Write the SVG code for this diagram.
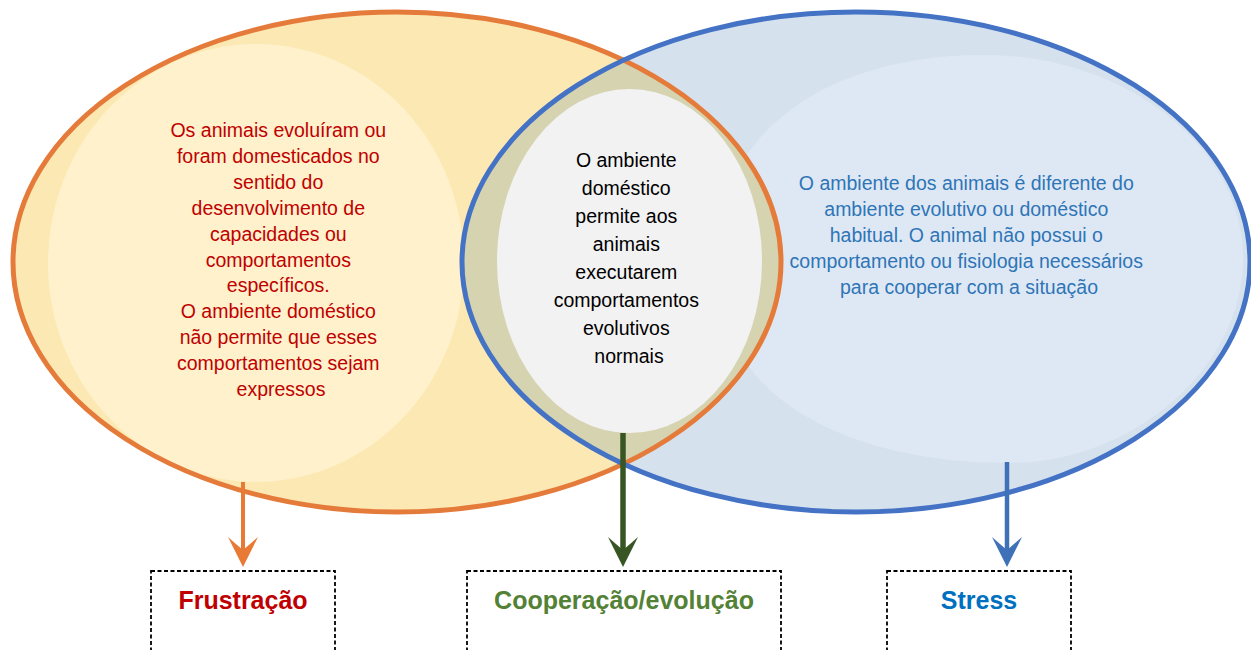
<svg xmlns="http://www.w3.org/2000/svg" width="1251" height="650" viewBox="0 0 1251 650">
  <style>
    .txt { font-family: "Liberation Sans", Arial, sans-serif; font-size: 19.5px; text-anchor: middle; }
    .lbl { font-family: "Liberation Sans", Arial, sans-serif; font-size: 25px; font-weight: bold; text-anchor: middle; }
    .box { fill: none; stroke: #000; stroke-width: 1.8; stroke-dasharray: 4 2.5; }
    .conn { fill: none; }
  </style>
  <defs>
    <ellipse id="eOrange" cx="397" cy="262" rx="384" ry="250"/>
    <ellipse id="eBlue" cx="856" cy="262" rx="394" ry="250"/>
    <clipPath id="clipOrange"><use href="#eOrange"/></clipPath>
    <clipPath id="clipBlue"><use href="#eBlue"/></clipPath>
    <marker id="headOrange" markerUnits="userSpaceOnUse" orient="auto" refX="0" refY="0" markerWidth="40" markerHeight="40" overflow="visible">
      <path d="M14,0 L-16,-15 Q-8,-6 -3,0 Q-8,6 -16,15 Z" fill="#E97A35"/>
    </marker>
    <marker id="headGreen" markerUnits="userSpaceOnUse" orient="auto" refX="0" refY="0" markerWidth="40" markerHeight="40" overflow="visible">
      <path d="M14,0 L-16,-15 Q-8,-6 -3,0 Q-8,6 -16,15 Z" fill="#375623"/>
    </marker>
    <marker id="headBlue" markerUnits="userSpaceOnUse" orient="auto" refX="0" refY="0" markerWidth="40" markerHeight="40" overflow="visible">
      <path d="M14,0 L-16,-15 Q-8,-6 -3,0 Q-8,6 -16,15 Z" fill="#3F71B8"/>
    </marker>
  </defs>

  <rect x="0" y="0" width="1251" height="650" fill="#FFFFFF"/>

  <g id="frustracao-set">
    <use href="#eOrange" fill="#FCE8B3"/>
    <ellipse cx="256" cy="263" rx="208" ry="219" fill="#FEF1CC"/>
  </g>

  <g id="stress-set">
    <use href="#eBlue" fill="#D6E1EE"/>
    <path d="M983,55 C1130,55 1243,150 1243,258 C1243,370 1130,463 1010,463 C850,463 715,400 715,262 C715,130 830,55 983,55 Z" fill="#DEE8F4" clip-path="url(#clipBlue)"/>
  </g>

  <g id="overlap">
    <use href="#eBlue" fill="#D6D3B1" clip-path="url(#clipOrange)"/>
    <use href="#eOrange" fill="none" stroke="#E57B3A" stroke-width="5"/>
    <use href="#eBlue" fill="none" stroke="#4472C4" stroke-width="5"/>
  </g>

  <g id="cooperacao-center">
    <ellipse cx="629.5" cy="261" rx="132.5" ry="172" fill="#F2F2F2"/>
  </g>

  <g id="text-frustracao">
    <text class="txt" fill="#C00000" x="281" y="137">
      <tspan x="281" dy="0">Os animais evoluíram ou</tspan>
      <tspan x="281" dy="25.9">foram domesticados no</tspan>
      <tspan x="281" dy="25.9">sentido do</tspan>
      <tspan x="281" dy="25.9">desenvolvimento de</tspan>
      <tspan x="281" dy="25.9">capacidades ou</tspan>
      <tspan x="281" dy="25.9">comportamentos</tspan>
      <tspan x="281" dy="25.9">específicos.</tspan>
      <tspan x="281" dy="25.9">O ambiente doméstico</tspan>
      <tspan x="281" dy="25.9">não permite que esses</tspan>
      <tspan x="281" dy="25.9">comportamentos sejam</tspan>
      <tspan x="281" dy="25.9">expressos</tspan>
    </text>
  </g>

  <g id="text-cooperacao">
    <text class="txt" fill="#000000" x="629" y="166.5">
      <tspan x="629" dy="0">O ambiente</tspan>
      <tspan x="629" dy="28">doméstico</tspan>
      <tspan x="629" dy="28">permite aos</tspan>
      <tspan x="629" dy="28">animais</tspan>
      <tspan x="629" dy="28">executarem</tspan>
      <tspan x="629" dy="28">comportamentos</tspan>
      <tspan x="629" dy="28">evolutivos</tspan>
      <tspan x="629" dy="28">normais</tspan>
    </text>
  </g>

  <g id="text-stress">
    <text class="txt" fill="#2E75B6" x="969" y="189.5">
      <tspan x="969" dy="0">O ambiente dos animais é diferente do</tspan>
      <tspan x="969" dy="26">ambiente evolutivo ou doméstico</tspan>
      <tspan x="969" dy="26">habitual. O animal não possui o</tspan>
      <tspan x="969" dy="26">comportamento ou fisiologia necessários</tspan>
      <tspan x="969" dy="26">para cooperar com a situação</tspan>
    </text>
  </g>

  <g id="connectors">
    <line class="conn" x1="243" y1="482" x2="243" y2="553" stroke="#E97A35" stroke-width="4" marker-end="url(#headOrange)"/>
    <line class="conn" x1="623" y1="433" x2="623" y2="553" stroke="#375623" stroke-width="5.5" marker-end="url(#headGreen)"/>
    <line class="conn" x1="1007" y1="462" x2="1007" y2="553" stroke="#3F71B8" stroke-width="4.5" marker-end="url(#headBlue)"/>
  </g>

  <g id="box-frustracao">
    <rect class="box" x="151" y="571" width="184" height="100"/>
    <text class="lbl" fill="#C00000" x="243" y="609">Frustração</text>
  </g>

  <g id="box-cooperacao">
    <rect class="box" x="467" y="571" width="314" height="100"/>
    <text class="lbl" fill="#538135" x="624" y="609">Cooperação/evolução</text>
  </g>

  <g id="box-stress">
    <rect class="box" x="887" y="571" width="184" height="100"/>
    <text class="lbl" fill="#0070C0" x="979" y="609">Stress</text>
  </g>
</svg>
